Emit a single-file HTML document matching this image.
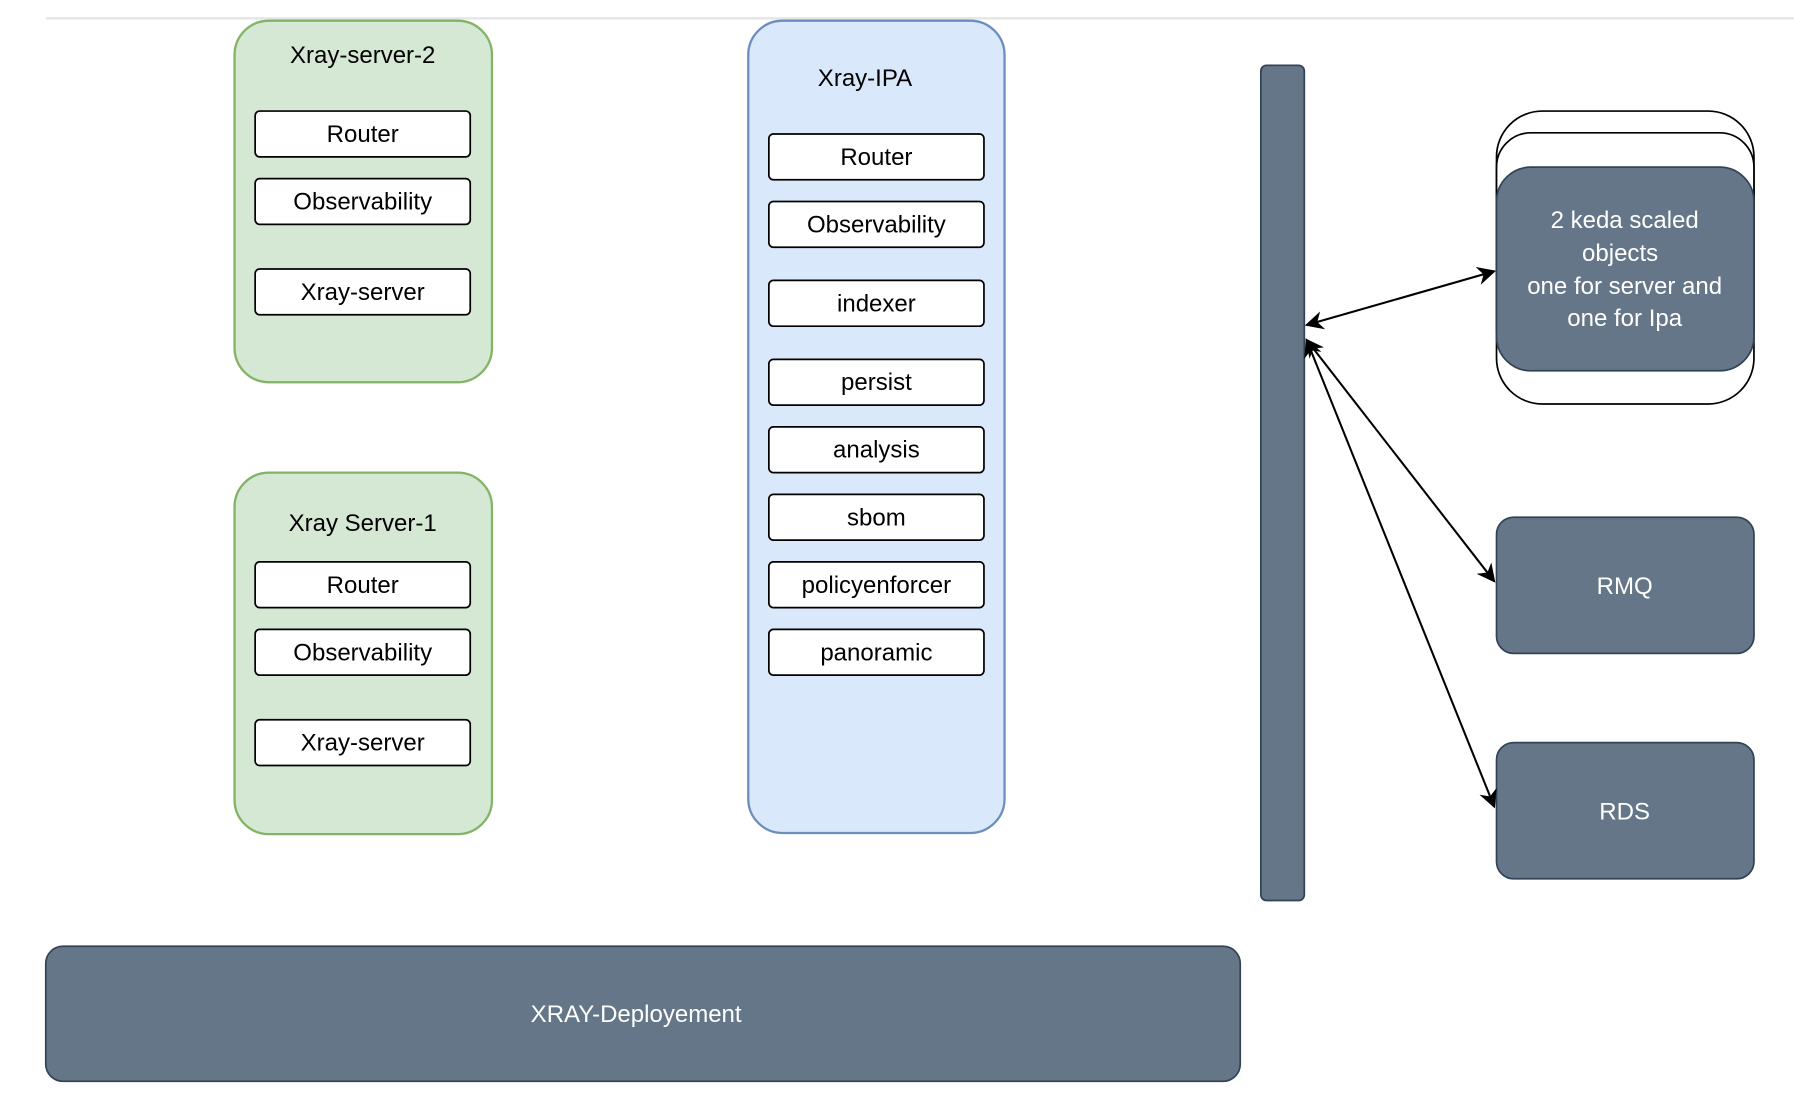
<!DOCTYPE html>
<html><head><meta charset="utf-8"><style>html,body{margin:0;padding:0;background:#fff}svg{display:block}</style></head><body>
<svg width="1794" height="1110" viewBox="0 0 1568 970" xmlns="http://www.w3.org/2000/svg" font-family="Liberation Sans, sans-serif">
<defs><marker id="a" viewBox="0 0 10 10" refX="9" refY="5" markerWidth="9" markerHeight="9" orient="auto-start-reverse"><path d="M0,0 L10,5 L0,10 L3,5z" fill="#000"/></marker></defs>
<line x1="40" y1="16" x2="1568" y2="16" stroke="#e4e4e4" stroke-width="2"/>
<g stroke="#82b366" stroke-width="2" fill="#d5e8d4"><rect x="205" y="18" width="225" height="316" rx="30"/><rect x="205" y="413" width="225" height="316" rx="30"/></g>
<rect x="654" y="18" width="224" height="710" rx="30" fill="#dae8fc" stroke="#6c8ebf" stroke-width="2"/>
<g font-size="21" text-anchor="middle" fill="#000">
<text x="317" y="55">Xray-server-2</text><text x="317" y="464">Xray Server-1</text><text x="756" y="75">Xray-IPA</text>
</g>
<g stroke="#000" stroke-width="1.5" fill="#fff">
<rect x="223" y="97" width="188" height="40" rx="4"/><rect x="223" y="156" width="188" height="40" rx="4"/><rect x="223" y="235" width="188" height="40" rx="4"/>
<rect x="223" y="491" width="188" height="40" rx="4"/><rect x="223" y="550" width="188" height="40" rx="4"/><rect x="223" y="629" width="188" height="40" rx="4"/>
<rect x="672" y="117" width="188" height="40" rx="4"/><rect x="672" y="176" width="188" height="40" rx="4"/><rect x="672" y="245" width="188" height="40" rx="4"/><rect x="672" y="314" width="188" height="40" rx="4"/><rect x="672" y="373" width="188" height="40" rx="4"/><rect x="672" y="432" width="188" height="40" rx="4"/><rect x="672" y="491" width="188" height="40" rx="4"/><rect x="672" y="550" width="188" height="40" rx="4"/>
</g>
<g font-size="21" text-anchor="middle" fill="#000">
<text x="317" y="124">Router</text><text x="317" y="183">Observability</text><text x="317" y="262">Xray-server</text>
<text x="317" y="518">Router</text><text x="317" y="577">Observability</text><text x="317" y="656">Xray-server</text>
<text x="766" y="144">Router</text><text x="766" y="203">Observability</text><text x="766" y="272">indexer</text><text x="766" y="341">persist</text><text x="766" y="400">analysis</text><text x="766" y="459">sbom</text><text x="766" y="518">policyenforcer</text><text x="766" y="577">panoramic</text>
</g>
<rect x="1102" y="57" width="38" height="730" rx="5" fill="#647687" stroke="#314354" stroke-width="1.5"/>
<g fill="#fff" stroke="#000" stroke-width="1.5"><rect x="1308" y="97" width="225" height="256" rx="40"/><rect x="1308" y="116" width="225" height="200" rx="30"/></g>
<g fill="#647687" stroke="#314354" stroke-width="1.5">
<rect x="1308" y="146" width="225" height="178" rx="30"/><rect x="1308" y="452" width="225" height="119" rx="15"/><rect x="1308" y="649" width="225" height="119" rx="15"/><rect x="40" y="827" width="1044" height="118" rx="15"/>
</g>
<g fill="#fff" font-size="21" text-anchor="middle">
<text x="1420" y="199">2 keda scaled</text><text x="1416" y="228">objects</text><text x="1420" y="257">one for server and</text><text x="1420" y="285">one for Ipa</text>
<text x="1420" y="519">RMQ</text><text x="1420" y="716">RDS</text><text x="556" y="893">XRAY-Deployement</text>
</g>
<g stroke="#000" stroke-width="1.8" fill="none">
<line x1="1142" y1="284" x2="1306" y2="237" marker-start="url(#a)" marker-end="url(#a)"/>
<line x1="1142" y1="297" x2="1306" y2="508" marker-start="url(#a)" marker-end="url(#a)"/>
<line x1="1142" y1="297" x2="1306" y2="705" marker-start="url(#a)" marker-end="url(#a)"/>
</g>
</svg>
</body></html>
